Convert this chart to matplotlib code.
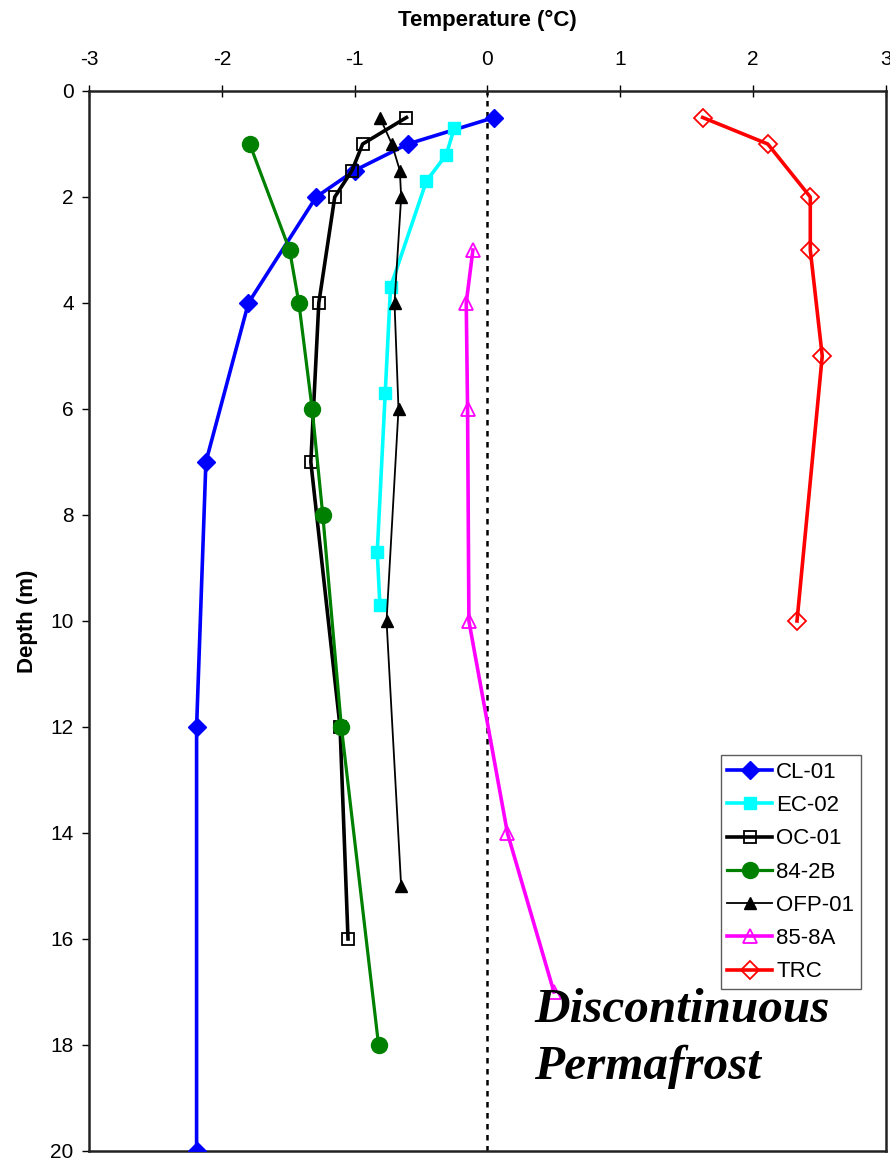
import matplotlib
matplotlib.use("Agg")
import matplotlib.pyplot as plt

# ---- data ----
cl01_depth = [0.5, 1, 1.5, 2, 4, 7, 12, 20]
cl01_temp = [0.05, -0.60, -1.00, -1.29, -1.80, -2.12, -2.19, -2.19]

ec02_depth = [0.7, 1.2, 1.7, 3.7, 5.7, 8.7, 9.7]
ec02_temp = [-0.25, -0.31, -0.46, -0.73, -0.77, -0.83, -0.81]

oc01_depth = [0.5, 1, 1.5, 2, 4, 7, 12, 16]
oc01_temp = [-0.61, -0.94, -1.02, -1.15, -1.27, -1.33, -1.11, -1.05]

b842_depth = [1, 3, 4, 6, 8, 12, 18]
b842_temp = [-1.79, -1.49, -1.42, -1.32, -1.24, -1.10, -0.82]

ofp01_depth = [0.5, 1, 1.5, 2, 4, 6, 10, 15]
ofp01_temp = [-0.81, -0.72, -0.66, -0.65, -0.70, -0.67, -0.76, -0.65]

a858_depth = [3, 4, 6, 10, 14, 17]
a858_temp = [-0.11, -0.16, -0.15, -0.14, 0.15, 0.50]

trc_depth = [0.5, 1, 2, 3, 5, 10]
trc_temp = [1.62, 2.11, 2.43, 2.43, 2.52, 2.33]

x_ticks = [-3, -2, -1, 0, 1, 2, 3]
y_ticks = [0, 2, 4, 6, 8, 10, 12, 14, 16, 18, 20]

plt.rcParams['font.family'] = ['Liberation Sans', 'DejaVu Sans']

fig = plt.figure(figsize=(8.9, 11.59), dpi=100)
ax = fig.add_axes([89/890, 1 - 1151/1159, (886-89)/890, (1151-91)/1159])

ax.axvline(0, color='black', lw=1.8, ls=(0, (2.2, 2.2)), zorder=1)

ax.plot(cl01_temp, cl01_depth, color='#0000FF', lw=2.6, marker='D', ms=9.5,
        mfc='#0000FF', mec='#0000FF', label='CL-01', zorder=3)
ax.plot(ec02_temp, ec02_depth, color='#00FFFF', lw=2.6, marker='s', ms=9,
        mfc='#00FFFF', mec='#00FFFF', label='EC-02', zorder=3)
ax.plot(oc01_temp, oc01_depth, color='black', lw=2.6, marker='s', ms=9,
        mfc='none', mec='black', mew=1.3, label='OC-01', zorder=3)
ax.plot(b842_temp, b842_depth, color='#008000', lw=2.3, marker='o', ms=11.5,
        mfc='#008000', mec='#008000', label='84-2B', zorder=3)
ax.plot(ofp01_temp, ofp01_depth, color='black', lw=1.3, marker='^', ms=8,
        mfc='black', mec='black', label='OFP-01', zorder=3)
ax.plot(a858_temp, a858_depth, color='#FF00FF', lw=2.6, marker='^', ms=10,
        mfc='none', mec='#FF00FF', mew=1.3, label='85-8A', zorder=3)
ax.plot(trc_temp, trc_depth, color='#FF0000', lw=2.6, marker='D', ms=9,
        mfc='none', mec='#FF0000', mew=1.3, label='TRC', zorder=3)

ax.set_xlim(-3, 3)
ax.set_ylim(20, 0)
ax.xaxis.tick_top()
ax.xaxis.set_label_position('top')
ax.set_xticks(x_ticks)
ax.set_yticks(y_ticks)
ax.set_xticklabels([str(v) for v in x_ticks])
ax.set_yticklabels([str(v) for v in y_ticks])
ax.tick_params(axis='x', labelsize=15, direction='inout', length=8, width=1.0, pad=12)
ax.tick_params(axis='y', labelsize=15, direction='out', length=5, width=1.0, pad=6)
ax.set_xlabel('Temperature (°C)', fontsize=16, fontweight='bold', labelpad=17)
ax.set_ylabel('Depth (m)', fontsize=16, fontweight='bold', labelpad=9)
for s in ax.spines.values():
    s.set_linewidth(1.8)
    s.set_color('#222222')

leg = ax.legend(loc='lower right', bbox_to_anchor=(772/797, (1151-989)/1060),
                fontsize=16, frameon=True, fancybox=False, edgecolor='#333333',
                borderpad=0.3, labelspacing=0.55, handlelength=2.0, handletextpad=0.2,
                borderaxespad=0)
leg.get_frame().set_linewidth(1.0)

ax.text(534/890, 1 - 1022/1159, 'Discontinuous', transform=fig.transFigure,
        fontsize=35.5, fontstyle='italic', fontweight='bold',
        family=['Liberation Serif', 'DejaVu Serif'], va='baseline', ha='left')
ax.text(534/890, 1 - 1079/1159, 'Permafrost', transform=fig.transFigure,
        fontsize=35.5, fontstyle='italic', fontweight='bold',
        family=['Liberation Serif', 'DejaVu Serif'], va='baseline', ha='left')

fig.savefig('out.png', dpi=100)
